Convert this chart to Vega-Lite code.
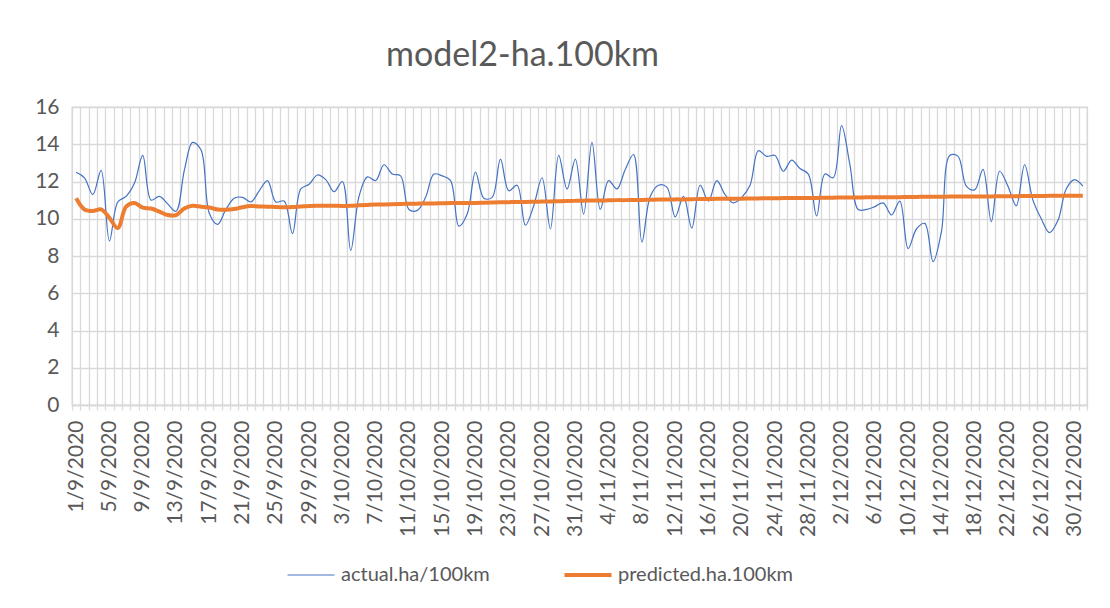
{
 "$schema": "https://vega.github.io/schema/vega-lite/v6.json",
 "autosize": {"type": "none"},
 "width": 1015,
 "height": 298,
 "padding": {"left": 72, "top": 107, "right": 23, "bottom": 203},
 "background": "white",
 "config": {"font": "Lato", "view": {"stroke": "#d9d9d9", "strokeWidth": 1.3}},
 "title": {"text": "model2-ha.100km", "fontSize": 34, "font": "Lato", "fontWeight": "normal", "color": "#595959", "anchor": "middle", "frame": "group", "dx": -57, "offset": -4, "baseline": "alphabetic"},
 "data": {"values": [
  {"date":"1/9/2020","actual":12.5,"predicted":11.1},
  {"date":"2/9/2020","actual":12.2,"predicted":10.5},
  {"date":"3/9/2020","actual":11.3,"predicted":10.42},
  {"date":"4/9/2020","actual":12.6,"predicted":10.5},
  {"date":"5/9/2020","actual":8.8,"predicted":10.05},
  {"date":"6/9/2020","actual":10.9,"predicted":9.5},
  {"date":"7/9/2020","actual":11.2,"predicted":10.65},
  {"date":"8/9/2020","actual":11.9,"predicted":10.85},
  {"date":"9/9/2020","actual":13.4,"predicted":10.6},
  {"date":"10/9/2020","actual":11.0,"predicted":10.55},
  {"date":"11/9/2020","actual":11.2,"predicted":10.38},
  {"date":"12/9/2020","actual":10.8,"predicted":10.2},
  {"date":"13/9/2020","actual":10.4,"predicted":10.2},
  {"date":"14/9/2020","actual":12.6,"predicted":10.55},
  {"date":"15/9/2020","actual":14.1,"predicted":10.7},
  {"date":"16/9/2020","actual":13.7,"predicted":10.65},
  {"date":"17/9/2020","actual":10.3,"predicted":10.6},
  {"date":"18/9/2020","actual":9.7,"predicted":10.5},
  {"date":"19/9/2020","actual":10.5,"predicted":10.48},
  {"date":"20/9/2020","actual":11.1,"predicted":10.52},
  {"date":"21/9/2020","actual":11.15,"predicted":10.62},
  {"date":"22/9/2020","actual":10.9,"predicted":10.68},
  {"date":"23/9/2020","actual":11.5,"predicted":10.66},
  {"date":"24/9/2020","actual":12.05,"predicted":10.65},
  {"date":"25/9/2020","actual":10.9,"predicted":10.63},
  {"date":"26/9/2020","actual":10.95,"predicted":10.62},
  {"date":"27/9/2020","actual":9.2,"predicted":10.63},
  {"date":"28/9/2020","actual":11.6,"predicted":10.66},
  {"date":"29/9/2020","actual":11.85,"predicted":10.69},
  {"date":"30/9/2020","actual":12.35,"predicted":10.7},
  {"date":"1/10/2020","actual":12.1,"predicted":10.7},
  {"date":"2/10/2020","actual":11.45,"predicted":10.7},
  {"date":"3/10/2020","actual":12.0,"predicted":10.69},
  {"date":"4/10/2020","actual":8.3,"predicted":10.7},
  {"date":"5/10/2020","actual":11.2,"predicted":10.72},
  {"date":"6/10/2020","actual":12.25,"predicted":10.74},
  {"date":"7/10/2020","actual":12.05,"predicted":10.76},
  {"date":"8/10/2020","actual":12.9,"predicted":10.77},
  {"date":"9/10/2020","actual":12.4,"predicted":10.78},
  {"date":"10/10/2020","actual":12.3,"predicted":10.79},
  {"date":"11/10/2020","actual":10.5,"predicted":10.8},
  {"date":"12/10/2020","actual":10.45,"predicted":10.81},
  {"date":"13/10/2020","actual":11.15,"predicted":10.82},
  {"date":"14/10/2020","actual":12.4,"predicted":10.82},
  {"date":"15/10/2020","actual":12.3,"predicted":10.83},
  {"date":"16/10/2020","actual":12.05,"predicted":10.84},
  {"date":"17/10/2020","actual":9.6,"predicted":10.84},
  {"date":"18/10/2020","actual":10.25,"predicted":10.85},
  {"date":"19/10/2020","actual":12.5,"predicted":10.85},
  {"date":"20/10/2020","actual":11.1,"predicted":10.86},
  {"date":"21/10/2020","actual":11.15,"predicted":10.87},
  {"date":"22/10/2020","actual":13.2,"predicted":10.88},
  {"date":"23/10/2020","actual":11.5,"predicted":10.89},
  {"date":"24/10/2020","actual":11.8,"predicted":10.9},
  {"date":"25/10/2020","actual":9.65,"predicted":10.9},
  {"date":"26/10/2020","actual":10.7,"predicted":10.91},
  {"date":"27/10/2020","actual":12.2,"predicted":10.92},
  {"date":"28/10/2020","actual":9.45,"predicted":10.93},
  {"date":"29/10/2020","actual":13.4,"predicted":10.94},
  {"date":"30/10/2020","actual":11.6,"predicted":10.95},
  {"date":"31/10/2020","actual":13.2,"predicted":10.96},
  {"date":"1/11/2020","actual":10.25,"predicted":10.97},
  {"date":"2/11/2020","actual":14.1,"predicted":10.98},
  {"date":"3/11/2020","actual":10.5,"predicted":10.98},
  {"date":"4/11/2020","actual":12.05,"predicted":10.99},
  {"date":"5/11/2020","actual":11.6,"predicted":11.0},
  {"date":"6/11/2020","actual":12.65,"predicted":11.0},
  {"date":"7/11/2020","actual":13.45,"predicted":11.01},
  {"date":"8/11/2020","actual":8.75,"predicted":11.01},
  {"date":"9/11/2020","actual":11.2,"predicted":11.02},
  {"date":"10/11/2020","actual":11.8,"predicted":11.03},
  {"date":"11/11/2020","actual":11.7,"predicted":11.03},
  {"date":"12/11/2020","actual":10.1,"predicted":11.04},
  {"date":"13/11/2020","actual":11.2,"predicted":11.04},
  {"date":"14/11/2020","actual":9.5,"predicted":11.05},
  {"date":"15/11/2020","actual":11.8,"predicted":11.06},
  {"date":"16/11/2020","actual":10.95,"predicted":11.06},
  {"date":"17/11/2020","actual":12.05,"predicted":11.07},
  {"date":"18/11/2020","actual":11.3,"predicted":11.07},
  {"date":"19/11/2020","actual":10.85,"predicted":11.08},
  {"date":"20/11/2020","actual":11.15,"predicted":11.08},
  {"date":"21/11/2020","actual":11.8,"predicted":11.09},
  {"date":"22/11/2020","actual":13.65,"predicted":11.09},
  {"date":"23/11/2020","actual":13.35,"predicted":11.1},
  {"date":"24/11/2020","actual":13.4,"predicted":11.1},
  {"date":"25/11/2020","actual":12.55,"predicted":11.11},
  {"date":"26/11/2020","actual":13.15,"predicted":11.11},
  {"date":"27/11/2020","actual":12.7,"predicted":11.12},
  {"date":"28/11/2020","actual":12.4,"predicted":11.12},
  {"date":"29/11/2020","actual":10.15,"predicted":11.12},
  {"date":"30/11/2020","actual":12.4,"predicted":11.13},
  {"date":"1/12/2020","actual":12.2,"predicted":11.13},
  {"date":"2/12/2020","actual":15.0,"predicted":11.14},
  {"date":"3/12/2020","actual":12.9,"predicted":11.14},
  {"date":"4/12/2020","actual":10.5,"predicted":11.14},
  {"date":"5/12/2020","actual":10.5,"predicted":11.15},
  {"date":"6/12/2020","actual":10.65,"predicted":11.15},
  {"date":"7/12/2020","actual":10.85,"predicted":11.16},
  {"date":"8/12/2020","actual":10.2,"predicted":11.16},
  {"date":"9/12/2020","actual":10.95,"predicted":11.16},
  {"date":"10/12/2020","actual":8.4,"predicted":11.17},
  {"date":"11/12/2020","actual":9.45,"predicted":11.17},
  {"date":"12/12/2020","actual":9.75,"predicted":11.18},
  {"date":"13/12/2020","actual":7.7,"predicted":11.18},
  {"date":"14/12/2020","actual":9.3,"predicted":11.18},
  {"date":"15/12/2020","actual":13.4,"predicted":11.19},
  {"date":"16/12/2020","actual":13.35,"predicted":11.19},
  {"date":"17/12/2020","actual":11.75,"predicted":11.19},
  {"date":"18/12/2020","actual":11.55,"predicted":11.2},
  {"date":"19/12/2020","actual":12.65,"predicted":11.2},
  {"date":"20/12/2020","actual":9.85,"predicted":11.2},
  {"date":"21/12/2020","actual":12.55,"predicted":11.21},
  {"date":"22/12/2020","actual":11.75,"predicted":11.21},
  {"date":"23/12/2020","actual":10.7,"predicted":11.21},
  {"date":"24/12/2020","actual":12.9,"predicted":11.22},
  {"date":"25/12/2020","actual":11.0,"predicted":11.22},
  {"date":"26/12/2020","actual":10.0,"predicted":11.22},
  {"date":"27/12/2020","actual":9.25,"predicted":11.23},
  {"date":"28/12/2020","actual":9.9,"predicted":11.23},
  {"date":"29/12/2020","actual":11.6,"predicted":11.23},
  {"date":"30/12/2020","actual":12.1,"predicted":11.24},
  {"date":"31/12/2020","actual":11.75,"predicted":11.24}
 ]},
 "encoding": {
  "x": {"field": "date", "type": "ordinal", "sort": null, "bandPosition": 0.5,
   "scale": {"type": "band", "paddingInner": 0, "paddingOuter": 0},
   "axis": {"title": null, "tickBand": "extent", "grid": true, "gridColor": "#d9d9d9", "gridWidth": 1.3,
    "domainColor": "#d9d9d9", "domainWidth": 1.3, "tickColor": "#d9d9d9", "tickSize": 5, "tickWidth": 1.3,
    "labelAngle": -90, "labelFontSize": 21, "labelFont": "Lato", "labelColor": "#595959", "labelPadding": 10,
    "labelOverlap": false, "labelBound": false, "labelFlush": false,
    "labelExpr": "indexof(domain('x'), datum.value) % 4 === 0 ? datum.label : ''"}
  }
 },
 "layer": [
  {"mark": {"type": "line", "strokeWidth": 1.2, "interpolate": "catmull-rom"},
   "encoding": {
    "y": {"field": "actual", "type": "quantitative", "scale": {"domain": [0, 16], "nice": false, "zero": true},
     "axis": {"title": null, "values": [0, 2, 4, 6, 8, 10, 12, 14, 16], "grid": true, "gridColor": "#d9d9d9", "gridWidth": 1.3,
      "domain": false, "ticks": false, "labelOverlap": false, "labelFontSize": 21, "labelFont": "Lato", "labelColor": "#595959", "labelPadding": 13}},
    "color": {"datum": "actual.ha/100km", "type": "nominal",
     "scale": {"domain": ["actual.ha/100km", "predicted.ha.100km"], "range": ["#4472C4", "#ED7D31"]},
     "legend": {"title": null, "orient": "none", "legendX": 229, "legendY": 458, "direction": "horizontal",
      "symbolType": "stroke", "symbolSize": 2209, "symbolStrokeWidth": 1.2, "labelFontSize": 20, "labelFont": "Lato",
      "labelColor": "#595959", "labelLimit": 400, "columnPadding": 66, "labelOffset": 20,
      "encode": {"symbols": {"update": {"strokeWidth": {"signal": "datum.value === 'predicted.ha.100km' ? 4 : 1.2"}}}}}}
   }},
  {"mark": {"type": "line", "strokeWidth": 4, "interpolate": "catmull-rom"},
   "encoding": {
    "y": {"field": "predicted", "type": "quantitative", "scale": {"domain": [0, 16], "nice": false, "zero": true},
     "axis": {"title": null, "values": [0, 2, 4, 6, 8, 10, 12, 14, 16], "grid": true, "gridColor": "#d9d9d9", "gridWidth": 1.3,
      "domain": false, "ticks": false, "labelOverlap": false, "labelFontSize": 21, "labelFont": "Lato", "labelColor": "#595959", "labelPadding": 13}},
    "color": {"datum": "predicted.ha.100km", "type": "nominal"}
   }}
 ]
}
